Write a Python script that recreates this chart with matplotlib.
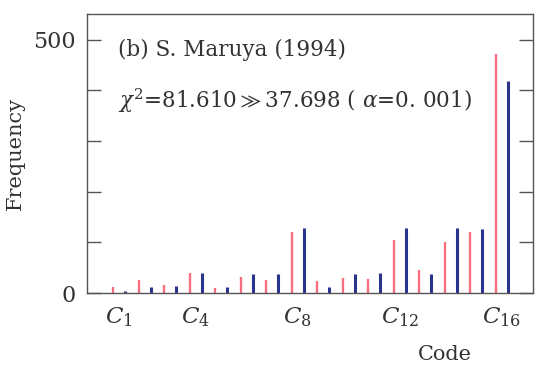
import numpy as np
import matplotlib.pyplot as plt

codes = np.arange(1, 17)
freq_pink = [12, 26, 16, 39, 10, 32, 26, 120, 24, 30, 28, 105, 46, 101, 120, 472]
freq_blue = [3, 12, 14, 39, 11, 38, 37, 128, 11, 38, 39, 128, 37, 128, 126, 418]
tick_codes = [1, 4, 8, 12, 16]
tick_labels = [r"$C_{1}$", r"$C_{4}$", r"$C_{8}$", r"$C_{12}$", r"$C_{16}$"]

plt.rcParams["font.family"] = "DejaVu Serif"
plt.rcParams["mathtext.fontset"] = "dejavuserif"

fig = plt.figure(figsize=(5.5, 3.71), dpi=100)
ax = fig.add_axes([87 / 550, 1 - 293 / 371, 446 / 550, 279 / 371])

ax.vlines(codes - 0.235, 0, freq_pink, color="#f66f7e", linewidth=1.7)
ax.vlines(codes + 0.235, 0, freq_blue, color="#29348f", linewidth=2.2)

ax.set_xlim(-0.255, 17.23)
ax.set_ylim(0, 551)
ax.set_yticks(np.arange(0, 501, 100))
ax.set_yticklabels(["0", "", "", "", "", "500"])
ax.set_xticks(tick_codes)
ax.set_xticklabels(tick_labels, fontsize=16.5)
ax.tick_params(axis="y", direction="in", length=10, width=1, color="#555555",
               right=True, labelsize=16, pad=8, labelcolor="#333333")
ax.tick_params(axis="x", length=0, pad=9, labelcolor="#333333")
for s in ax.spines.values():
    s.set_color("#555555")
    s.set_linewidth(1)

ax.set_ylabel("Frequency", fontsize=15, color="#333333", labelpad=6)
fig.text(445 / 550, 1 - 355 / 371, "Code", fontsize=15, color="#333333",
         ha="center", va="center")

ax.text(0.07, 0.871, "(b) S. Maruya (1994)", transform=ax.transAxes,
        fontsize=15.5, color="#333333", va="center")
ax.text(0.07, 0.688, r"$\chi^{2}$=81.610$\gg$37.698 ( $\alpha$=0. 001)", transform=ax.transAxes,
        fontsize=15.5, color="#333333", va="center")

fig.savefig("out.png", dpi=100)
